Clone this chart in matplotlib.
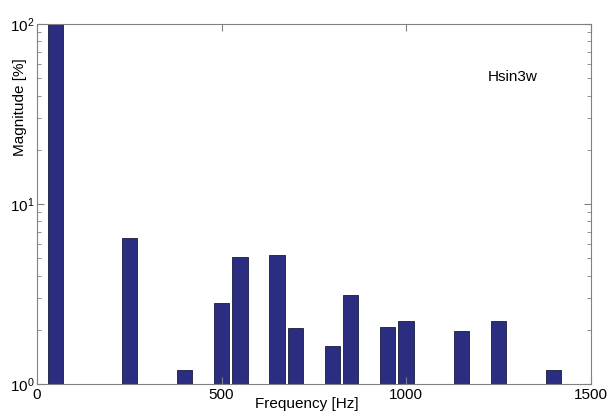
import matplotlib
matplotlib.use("Agg")
import matplotlib.pyplot as plt
from matplotlib.ticker import LogLocator, FixedLocator, NullFormatter

plt.rcParams['font.family'] = ['Liberation Sans', 'DejaVu Sans']
plt.rcParams['mathtext.fontset'] = 'custom'
plt.rcParams['mathtext.rm'] = 'Liberation Sans'

freqs = [50, 250, 400, 500, 550, 650, 700, 800, 850, 950, 1000, 1150, 1250, 1400]
mags = [100, 6.5, 1.2, 2.82, 5.06, 5.2, 2.05, 1.63, 3.13, 2.06, 2.24, 1.96, 2.24, 1.2]
xticks = [0, 500, 1000, 1500]

fig = plt.figure(figsize=(6.11, 4.11), dpi=100)
ax = fig.add_axes([0.0606, 0.0657, 0.906, 0.876])
ax.bar(freqs, mags, width=42, color='#2b2d80', edgecolor='#1a1a40', linewidth=0.6)
ax.set_yscale('log')
ax.set_ylim(1, 100)
ax.set_xlim(0, 1500)
ax.xaxis.set_major_locator(FixedLocator(xticks))
ax.set_xticklabels([str(t) for t in xticks])
ax.yaxis.set_major_locator(LogLocator(base=10, numticks=10))
ax.yaxis.set_minor_locator(LogLocator(base=10, subs=range(2, 10), numticks=10))
ax.yaxis.set_minor_formatter(NullFormatter())
for s in ax.spines.values():
    s.set_color('#808080')
    s.set_linewidth(0.8)
ax.tick_params(which='both', direction='in', top=True, right=True, colors='#808080', labelcolor='black', labelsize=11)
ax.tick_params(which='major', length=5)
ax.tick_params(which='minor', length=3)
ax.tick_params(axis='x', pad=3)
ax.tick_params(axis='y', pad=2)
ax.set_xlabel('Frequency [Hz]', fontsize=11)
ax.xaxis.set_label_coords(0.487, -0.036)
ax.xaxis.label.set_va('top')
ax.set_ylabel('Magnitude [%]', fontsize=11)
ax.yaxis.set_label_coords(-0.031, 0.77)
ax.yaxis.label.set_va('center')
ax.text(1222, 50.8, 'Hsin3w', fontsize=11, va='center', ha='left')
fig.savefig('out.png', dpi=100)
